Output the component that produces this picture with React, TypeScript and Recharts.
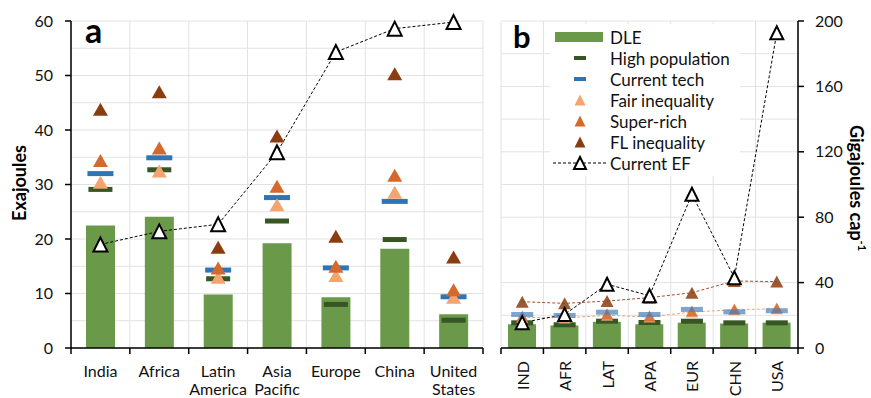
import React from 'react'
import { ComposedChart, Bar, Line, XAxis, YAxis, CartesianGrid, Legend } from 'recharts'

const regions = ['India', 'Africa', 'Latin America', 'Asia Pacific', 'Europe', 'China', 'United States']
const codes = ['IND', 'AFR', 'LAT', 'APA', 'EUR', 'CHN', 'USA']

// panel a, exajoules
const dleEJ = [22.5, 24.1, 9.8, 19.2, 9.3, 18.2, 6.2]
const highPopEJ = [29.1, 32.7, 12.7, 23.3, 8.0, 19.9, 5.1]
const currentTechEJ = [32.0, 34.9, 14.3, 27.6, 14.7, 26.9, 9.4]
const fairIneqEJ = [30.4, 32.5, 13.0, 26.3, 13.3, 28.6, 9.3]
const superRichEJ = [34.4, 36.7, 14.7, 29.7, 15.0, 31.7, 10.7]
const flIneqEJ = [43.8, 47.0, 18.5, 38.9, 20.5, 50.3, 16.7]
const currentEFEJ = [19.0, 21.4, 22.7, 35.9, 54.3, 58.6, 59.8]

// panel b, gigajoules per capita
const dleGJ = [14.5, 13.8, 16.0, 14.5, 15.5, 15.0, 15.5]
const highPopGJ = [15.4, 14.2, 16.4, 15.6, 16.4, 15.4, 15.4]
const currentTechGJ = [20.5, 19.9, 21.9, 20.5, 23.6, 22.1, 22.8]
const fairIneqGJ = [18.8, 18.4, 20.0, 19.0, 22.0, 23.4, 24.0]
const superRichGJ = [19.6, 19.2, 21.0, 19.8, 22.6, 23.8, 24.4]
const flIneqGJ = [28.3, 27.3, 28.7, 30.8, 33.8, 41.0, 40.6]
const currentEFGJ = [15.5, 20.5, 39.0, 32.0, 94.0, 43.0, 192.8]

const ticksA = [0, 10, 20, 30, 40, 50, 60]
const gridA = [0, 5, 10, 15, 20, 25, 30, 35, 40, 45, 50, 55, 60]
const ticksB = [0, 40, 80, 120, 160, 200]
const gridB = [0, 20, 40, 60, 80, 100, 120, 140, 160, 180, 200]

const dataA = regions.map((name, i) => ({
  name,
  dle: dleEJ[i],
  highPop: highPopEJ[i],
  currentTech: currentTechEJ[i],
  fair: fairIneqEJ[i],
  superRich: superRichEJ[i],
  fl: flIneqEJ[i],
  ef: currentEFEJ[i],
}))

const dataB = codes.map((name, i) => ({
  name,
  dle: dleGJ[i],
  highPop: highPopGJ[i],
  currentTech: currentTechGJ[i],
  fair: fairIneqGJ[i],
  superRich: superRichGJ[i],
  fl: flIneqGJ[i],
  ef: currentEFGJ[i],
}))

const FONT = 'Lato, "Open Sans", sans-serif'
const C = {
  dle: '#6A9A49',
  highPop: '#375623',
  tech: '#2E75B6',
  fair: '#F4A46C',
  superRich: '#D4692B',
  fl: '#8A3D10',
  grid: '#E2E2E2',
  text: '#111',
}

function triPoints(cx: number, cy: number, w: number, h: number) {
  return `${cx},${cy - h / 2} ${cx + w / 2},${cy + h / 2} ${cx - w / 2},${cy + h / 2}`
}

function triDot(fill: string, w: number, h: number, opts: any = {}) {
  return (p: any) => {
    if (p.cx == null || p.cy == null) return <g key={p.index} />
    return (
      <polygon
        key={p.index}
        points={triPoints(p.cx, p.cy, w, h)}
        fill={fill}
        stroke={opts.stroke || 'none'}
        strokeWidth={opts.sw || 0}
        strokeLinejoin="miter"
        opacity={opts.opacity ?? 1}
      />
    )
  }
}

function dashDot(fill: string, w: number, h: number, opacity = 1) {
  return (p: any) => {
    if (p.cx == null || p.cy == null) return <g key={p.index} />
    return <rect key={p.index} x={p.cx - w / 2} y={p.cy - h / 2} width={w} height={h} fill={fill} opacity={opacity} />
  }
}

// horizontal grid lines from the value list, through the plot's own extent
function gridRows(values: number[], max: number) {
  return ({ offset }: any) => values.map(v => offset.top + offset.height * (1 - v / max))
}

function gridCols(n: number) {
  return ({ offset }: any) => Array.from({ length: n + 1 }, (_, i) => offset.left + (i * offset.width) / n)
}

function boundaryTicks(x: number, y: number, half: number, last: boolean) {
  return (
    <>
      <line x1={x - half} x2={x - half} y1={y} y2={y + 6} stroke="#000" strokeWidth={1.5} />
      {last && <line x1={x + half} x2={x + half} y1={y} y2={y + 6} stroke="#000" strokeWidth={1.5} />}
    </>
  )
}

function TickA(props: any) {
  const { x, y, payload, width, visibleTicksCount, index } = props
  const half = width / visibleTicksCount / 2
  const axisY = y - 8
  const lines = String(payload.value).split(' ')
  return (
    <g>
      {boundaryTicks(x, axisY, half, index === visibleTicksCount - 1)}
      <text x={x} y={axisY + 29} textAnchor="middle" fontSize={16} fontFamily={FONT} fill={C.text}>
        {lines.map((l, i) => (
          <tspan key={i} x={x} dy={i === 0 ? 0 : 18}>{l}</tspan>
        ))}
      </text>
    </g>
  )
}

function TickB(props: any) {
  const { x, y, payload, width, visibleTicksCount, index } = props
  const half = width / visibleTicksCount / 2
  const axisY = y - 8
  return (
    <g>
      {boundaryTicks(x, axisY, half, index === visibleTicksCount - 1)}
      <text
        x={x}
        y={axisY + 13}
        transform={`rotate(-90, ${x}, ${axisY + 13})`}
        textAnchor="end"
        dominantBaseline="central"
        fontSize={16}
        fontFamily={FONT}
        fill={C.text}
      >
        {payload.value}
      </text>
    </g>
  )
}

const legendRows = [
  { label: 'DLE', kind: 'bar', color: C.dle },
  { label: 'High population', kind: 'dash', color: C.highPop },
  { label: 'Current tech', kind: 'dash', color: C.tech },
  { label: 'Fair inequality', kind: 'tri', color: C.fair },
  { label: 'Super-rich', kind: 'tri', color: C.superRich },
  { label: 'FL inequality', kind: 'tri', color: C.fl },
  { label: 'Current EF', kind: 'ef', color: '#000' },
]

function LegendB() {
  return (
    <div style={{ background: '#fff', width: 190, height: 152 }}>
      <svg width={190} height={152} style={{ display: 'block' }}>
        {legendRows.map((r, i) => {
          const cy = 13 + i * 21
          let sw: React.ReactNode = null
          if (r.kind === 'bar') sw = <rect x={5} y={cy - 5} width={48} height={10} fill={r.color} />
          if (r.kind === 'dash') sw = <rect x={24} y={cy - 2} width={12} height={4} fill={r.color} />
          if (r.kind === 'tri') sw = <polygon points={triPoints(30, cy, 11, 11)} fill={r.color} />
          if (r.kind === 'ef')
            sw = (
              <>
                <line x1={3} x2={57} y1={cy} y2={cy} stroke="#000" strokeWidth={1} strokeDasharray="3 2" />
                <polygon points={triPoints(30, cy, 12, 12)} fill="#fff" stroke="#000" strokeWidth={2} />
              </>
            )
          return (
            <g key={r.label}>
              {sw}
              <text x={60} y={cy} dominantBaseline="central" fontSize={17} fontFamily={FONT} fill={C.text}>
                {r.label}
              </text>
            </g>
          )
        })}
      </svg>
    </div>
  )
}

function PanelA() {
  return (
    <ComposedChart width={485} height={398} data={dataA} margin={{ top: 21, right: 2, bottom: 0, left: 0 }}>
      <CartesianGrid
        stroke={C.grid}
        horizontalCoordinatesGenerator={gridRows(gridA, 60)}
        verticalCoordinatesGenerator={gridCols(regions.length)}
      />
      <XAxis
        dataKey="name"
        interval={0}
        height={50}
        tickSize={6}
        tickMargin={2}
        tickLine={false}
        axisLine={{ stroke: '#000', strokeWidth: 1.5 }}
        tick={<TickA />}
      />
      <YAxis
        domain={[0, 60]}
        ticks={ticksA}
        interval={0}
        width={71}
        tickSize={6}
        tickMargin={12}
        axisLine={{ stroke: '#000', strokeWidth: 1.5 }}
        tickLine={{ stroke: '#000', strokeWidth: 1.5 }}
        tick={{ fontSize: 16, fontFamily: FONT, fill: C.text }}
        label={{
          content: () => (
            <text
              x={19}
              y={183}
              transform="rotate(-90, 19, 183)"
              textAnchor="middle"
              dominantBaseline="central"
              fontSize={18}
              fontWeight="bold"
              fontFamily={FONT}
              fill="#000"
            >
              Exajoules
            </text>
          ),
        }}
      />
      <Bar dataKey="dle" fill={C.dle} barSize={29} isAnimationActive={false} />
      <Line dataKey="highPop" stroke="none" dot={dashDot(C.highPop, 24, 5)} activeDot={false} isAnimationActive={false} />
      <Line dataKey="currentTech" stroke="none" dot={dashDot(C.tech, 26, 5)} activeDot={false} isAnimationActive={false} />
      <Line dataKey="fair" stroke="none" dot={triDot(C.fair, 15, 13)} activeDot={false} isAnimationActive={false} />
      <Line dataKey="superRich" stroke="none" dot={triDot(C.superRich, 15, 13)} activeDot={false} isAnimationActive={false} />
      <Line dataKey="fl" stroke="none" dot={triDot(C.fl, 15, 13)} activeDot={false} isAnimationActive={false} />
      <Line
        dataKey="ef"
        stroke="#000"
        strokeWidth={1}
        strokeDasharray="3 2"
        dot={triDot('#fff', 14, 14, { stroke: '#000', sw: 2 })}
        activeDot={false}
        isAnimationActive={false}
      />
      <text x={85} y={43} fontSize={34} fontWeight="bold" fontFamily={FONT} fill="#000">a</text>
    </ComposedChart>
  )
}

function PanelB() {
  return (
    <ComposedChart width={391} height={398} data={dataB} margin={{ top: 21, right: 0, bottom: 0, left: 21 }}>
      <CartesianGrid
        stroke={C.grid}
        horizontalCoordinatesGenerator={gridRows(gridB, 200)}
        verticalCoordinatesGenerator={gridCols(codes.length)}
      />
      <XAxis
        dataKey="name"
        interval={0}
        height={50}
        tickSize={6}
        tickMargin={2}
        tickLine={false}
        axisLine={{ stroke: '#000', strokeWidth: 1.5 }}
        tick={<TickB />}
      />
      <YAxis
        orientation="right"
        domain={[0, 200]}
        ticks={ticksB}
        interval={0}
        width={73}
        tickSize={6}
        tickMargin={11}
        axisLine={{ stroke: '#000', strokeWidth: 1.5 }}
        tickLine={{ stroke: '#000', strokeWidth: 1.5 }}
        tick={{ fontSize: 16, fontFamily: FONT, fill: C.text }}
        label={{
          content: () => (
            <text
              x={377}
              y={188}
              transform="rotate(90, 377, 188)"
              textAnchor="middle"
              dominantBaseline="central"
              fontSize={18}
              fontWeight="bold"
              fontFamily={FONT}
              fill="#000"
            >
              Gigajoules cap
              <tspan dy={-6} fontSize={11}>-1</tspan>
            </text>
          ),
        }}
      />
      <Legend
        layout="vertical"
        align="center"
        verticalAlign="middle"
        wrapperStyle={{ top: 24, left: 70, width: 190, height: 152 }}
        content={() => <LegendB />}
      />
      <Bar dataKey="dle" fill={C.dle} barSize={28} isAnimationActive={false} />
      <Line dataKey="highPop" stroke="none" dot={dashDot(C.highPop, 22, 5)} activeDot={false} isAnimationActive={false} />
      <Line
        dataKey="fair"
        stroke={C.fair}
        strokeWidth={1}
        strokeDasharray="3 2"
        dot={triDot(C.fair, 12, 11, { opacity: 0.9 })}
        activeDot={false}
        isAnimationActive={false}
      />
      <Line dataKey="superRich" stroke="none" dot={triDot(C.superRich, 12, 11, { opacity: 0.8 })} activeDot={false} isAnimationActive={false} />
      <Line dataKey="currentTech" stroke="none" dot={dashDot('#4A7FB8', 22, 5, 0.7)} activeDot={false} isAnimationActive={false} />
      <Line
        dataKey="fl"
        stroke="#A0522D"
        strokeWidth={1}
        strokeDasharray="3 2"
        dot={triDot(C.fl, 13, 12, { opacity: 0.85 })}
        activeDot={false}
        isAnimationActive={false}
      />
      <Line
        dataKey="ef"
        stroke="#000"
        strokeWidth={1}
        strokeDasharray="3 2"
        dot={triDot('#fff', 13, 13, { stroke: '#000', sw: 2 })}
        activeDot={false}
        isAnimationActive={false}
      />
      <text x={33} y={48} fontSize={31} fontWeight="bold" fontFamily={FONT} fill="#000">b</text>
    </ComposedChart>
  )
}

export default function App() {
  return (
    <div style={{ position: 'absolute', left: 0, top: 0, width: 871, height: 398, background: '#fff', fontFamily: FONT }}>
      <div style={{ position: 'absolute', left: 0, top: 0 }}>
        <PanelA />
      </div>
      <div style={{ position: 'absolute', left: 480, top: 0 }}>
        <PanelB />
      </div>
    </div>
  )
}
